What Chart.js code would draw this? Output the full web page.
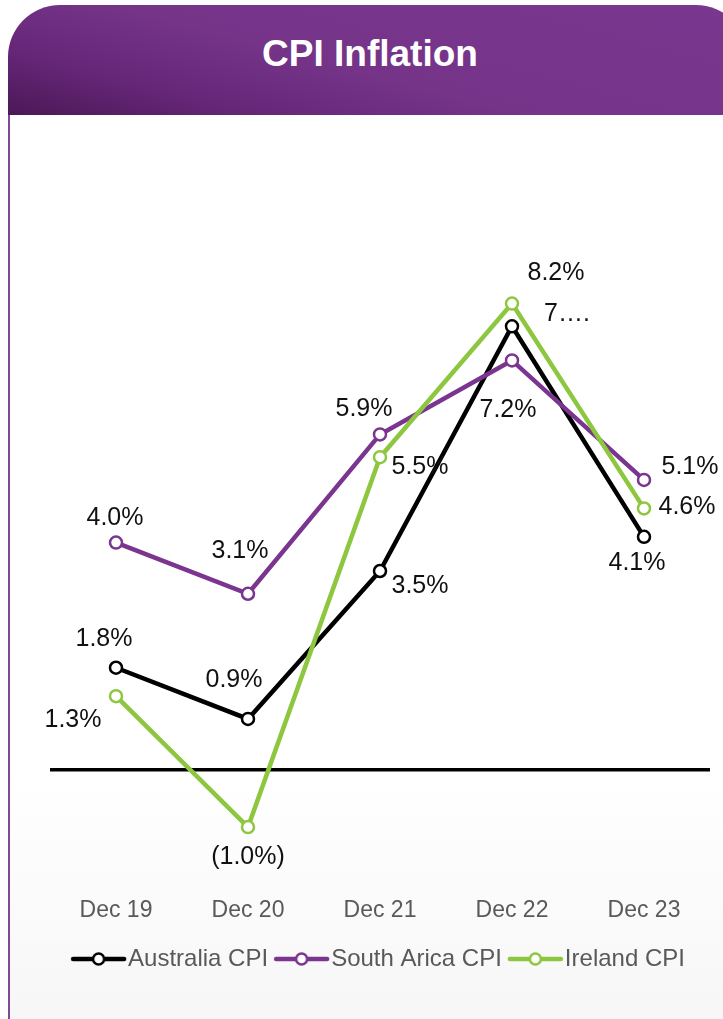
<!DOCTYPE html>
<html>
<head>
<meta charset="utf-8">
<script src="https://cdn.jsdelivr.net/npm/chart.js@4.4.1/dist/chart.umd.min.js"></script>
<style>
  html, body { margin: 0; padding: 0; background: #fff; overflow: hidden; }
  body { width: 723px; height: 1019px; position: relative; font-family: "Liberation Sans", Arial, sans-serif; }
  .card { position: absolute; left: 8px; top: 5px; width: 740px; height: 1030px; }
  .head {
    height: 110px; border-radius: 52px 52px 0 0;
    background: linear-gradient(15deg, #4b1856 0%, #662779 22%, #753488 45%, #7a3790 100%);
    color: #fff; font-weight: bold; font-size: 37px; text-align: center;
    line-height: 98px; padding-right: 16px; box-sizing: border-box;
  }
  .body {
    position: absolute; top: 110px; left: 0; right: 0; bottom: 0;
    border-left: 2px solid #7e4a91;
    background: linear-gradient(#fff 0%, #fff 72%, #f6f6f6 100%);
  }
  #wrap { position: absolute; left: 10px; top: 115px; width: 713px; height: 904px; }
</style>
</head>
<body>
<div class="card">
  <div class="head">CPI Inflation</div>
  <div class="body"></div>
</div>
<div id="wrap"><canvas id="lineChart"></canvas></div>
<script>
const categories = ['Dec 19', 'Dec 20', 'Dec 21', 'Dec 22', 'Dec 23'];
const australiaCpi = [1.8, 0.9, 3.5, 7.8, 4.1];
const southAfricaCpi = [4.0, 3.1, 5.9, 7.2, 5.1];
const irelandCpi = [1.3, -1.0, 5.5, 8.2, 4.6];
const australiaLabels = ['1.8%', '0.9%', '3.5%', '7….', '4.1%'];
const southAfricaLabels = ['4.0%', '3.1%', '5.9%', '7.2%', '5.1%'];
const irelandLabels = ['1.3%', '(1.0%)', '5.5%', '8.2%', '4.6%'];

// pixel nudges of each value label from its point
const australiaOffsets = [[-12, -29], [-14, -39], [40, 15], [55, -12], [-7, 26]];
const southAfricaOffsets = [[-1, -24], [-8, -43], [-16, -25], [-4, 50], [46, -13]];
const irelandOffsets = [[-43, 24], [0, 30], [40, 10], [44, -30], [43, -1]];

function legendMarker(color) {
  const c = document.createElement('canvas');
  c.width = 73; c.height = 16;
  const g = c.getContext('2d');
  g.strokeStyle = color; g.lineWidth = 4.5; g.lineCap = 'round';
  g.beginPath(); g.moveTo(14, 8); g.lineTo(65, 8); g.stroke();
  g.fillStyle = '#fff'; g.lineWidth = 2.5;
  g.beginPath(); g.arc(39.5, 8, 5.5, 0, Math.PI * 2); g.fill(); g.stroke();
  return c;
}

const valueLabels = {
  id: 'valueLabels',
  afterDatasetsDraw(chart) {
    const ctx = chart.ctx;
    ctx.save();
    ctx.font = '25px "Liberation Sans", Arial, sans-serif';
    ctx.fillStyle = '#111';
    ctx.textAlign = 'center';
    ctx.textBaseline = 'middle';
    chart.data.datasets.forEach((ds, i) => {
      chart.getDatasetMeta(i).data.forEach((pt, j) => {
        const off = ds.labelOffsets[j];
        ctx.fillText(ds.valueLabels[j], pt.x + off[0], pt.y + off[1]);
      });
    });
    ctx.restore();
  }
};

const series = [
  { label: 'Australia CPI', data: australiaCpi, color: '#000000', labels: australiaLabels, offsets: australiaOffsets, order: 3 },
  { label: 'South Arica CPI', data: southAfricaCpi, color: '#7b3590', labels: southAfricaLabels, offsets: southAfricaOffsets, order: 2 },
  { label: 'Ireland CPI', data: irelandCpi, color: '#8dc63f', labels: irelandLabels, offsets: irelandOffsets, order: 1 }
];

const ctx = document.getElementById('lineChart').getContext('2d');
new Chart(ctx, {
  type: 'line',
  data: {
    labels: categories,
    datasets: series.map(s => ({
      label: s.label,
      data: s.data,
      order: s.order,
      borderColor: s.color,
      borderWidth: 4.5,
      pointRadius: 6,
      pointBorderWidth: 2.5,
      pointBackgroundColor: '#fff',
      pointBorderColor: s.color,
      pointStyle: 'circle',
      tension: 0,
      fill: false,
      valueLabels: s.labels,
      labelOffsets: s.offsets,
      marker: legendMarker(s.color)
    }))
  },
  options: {
    responsive: true,
    maintainAspectRatio: false,
    animation: false,
    layout: { padding: { left: 40, right: 13, top: 143, bottom: 38 } },
    scales: {
      x: {
        offset: true,
        grid: { display: false, drawTicks: false },
        border: { display: false },
        ticks: { color: '#595959', font: { size: 23, lineHeight: 1, family: '"Liberation Sans", Arial, sans-serif' }, padding: 15 }
      },
      y: {
        min: -2,
        max: 9,
        ticks: { display: false, stepSize: 1 },
        border: { display: false },
        grid: {
          drawTicks: false,
          lineWidth: 3.5,
          color: c => (c.tick && c.tick.value === 0 ? '#000' : 'rgba(0,0,0,0)')
        }
      }
    },
    plugins: {
      tooltip: { enabled: false },
      legend: {
        position: 'bottom',
        labels: {
          usePointStyle: true,
          pointStyleWidth: 41,
          padding: 10,
          color: '#595959',
          font: { size: 24, family: '"Liberation Sans", Arial, sans-serif' },
          generateLabels(chart) {
            return chart.data.datasets.map((ds, i) => ({
              text: ds.label,
              pointStyle: ds.marker,
              fillStyle: ds.borderColor,
              strokeStyle: ds.borderColor,
              fontColor: '#595959',
              lineWidth: 0,
              hidden: false,
              datasetIndex: i
            }));
          }
        }
      }
    }
  },
  plugins: [valueLabels]
});
</script>
</body>
</html>
